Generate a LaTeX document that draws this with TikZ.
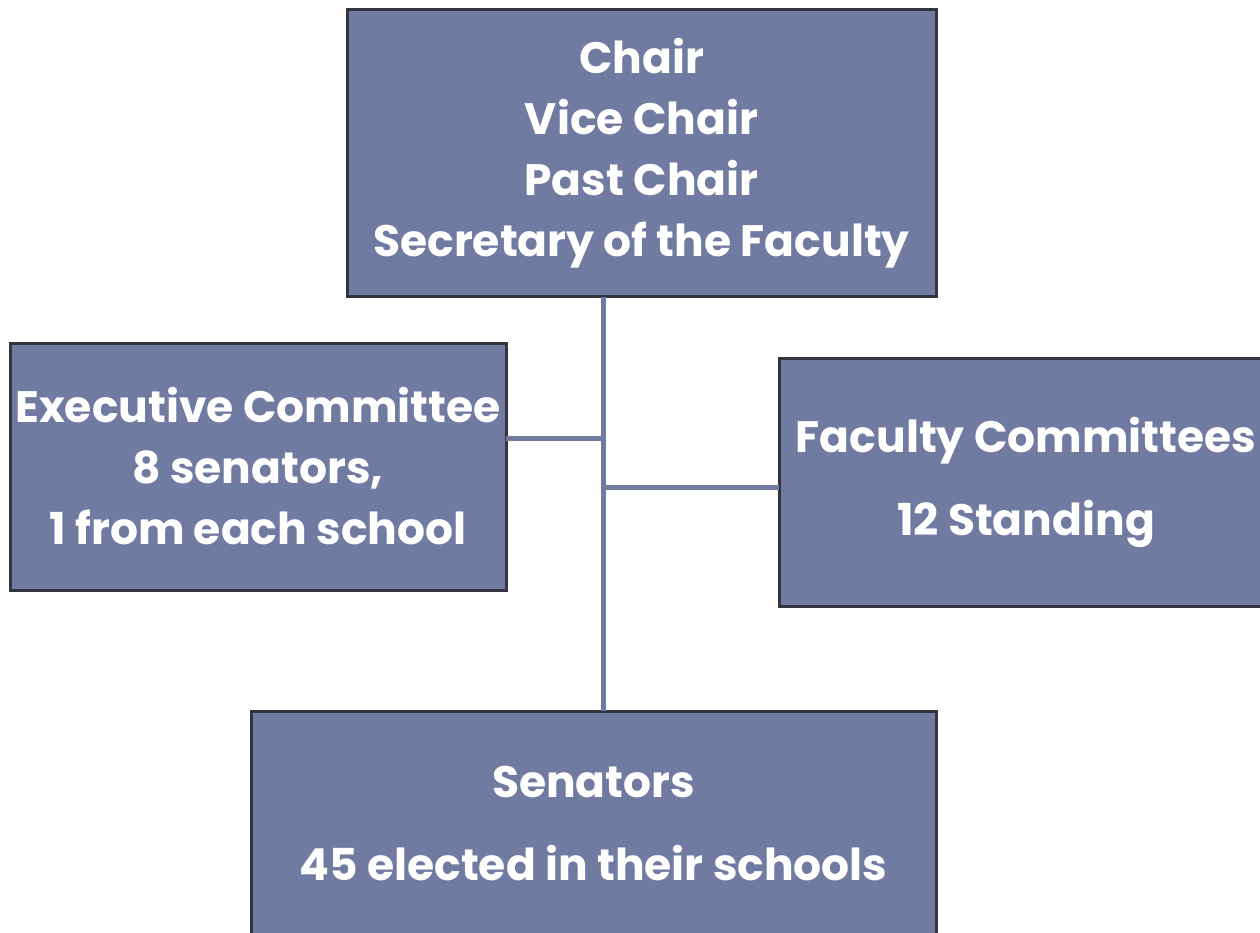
\documentclass[tikz,border=0pt]{standalone}
\usepackage{fontspec}
\setmainfont{Poppins}
\definecolor{boxfill}{HTML}{717AA0}
\definecolor{boxedge}{HTML}{34343E}
\begin{document}
\begin{tikzpicture}[x=1pt,y=-1pt,
  orgbox/.style={draw=boxedge, line width=3pt, fill=boxfill, text=white,
    font=\fontsize{44}{61}\selectfont\bfseries, align=center,
    inner sep=0pt, outer sep=0pt},
  widegap/.style={font=\fontsize{44}{83}\selectfont\bfseries},
  link/.style={draw=boxfill, line width=5pt}]
\useasboundingbox (0,0) rectangle (1260,932);
\node[orgbox, minimum width=589pt, minimum height=287pt] (top) at (641.5,153)
  {Chair\\ Vice Chair\\ Past Chair\\ Secretary of the Faculty};
\node[orgbox, minimum width=496pt, minimum height=247pt] (exec) at (258,466.5)
  {Executive Committee\\ 8 senators,\\ 1 from each school};
\node[orgbox, widegap, minimum width=494pt, minimum height=248pt] (fac) at (1026,482)
  {Faculty Committees\\ 12 Standing};
\node[orgbox, widegap, minimum width=685pt, minimum height=224pt] (sen) at (593.5,823)
  {Senators\\ 45 elected in their schools};
\coordinate (jl) at (601,438.5);
\coordinate (jr) at (603,487);
\draw[link] (top.south -| 603,0) -- (sen.north -| 603,0);
\draw[link] (exec.east |- jl) -- (jl);
\draw[link] (jr) -- (fac.west |- jr);
\end{tikzpicture}
\end{document}
